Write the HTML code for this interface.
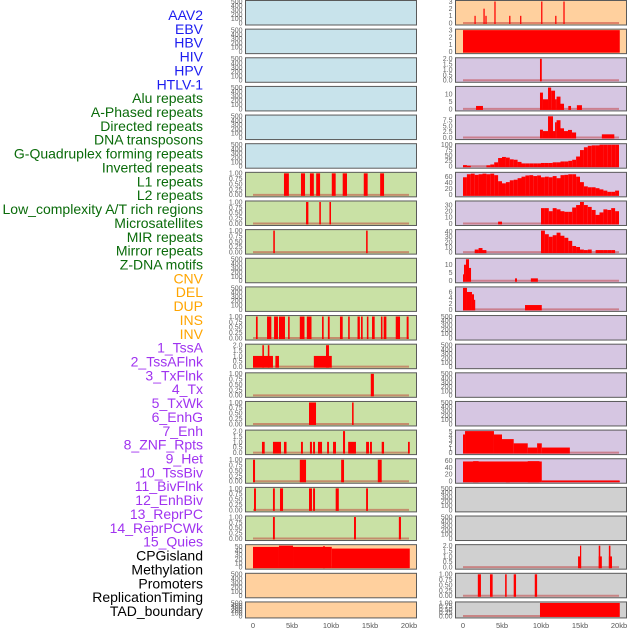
<!DOCTYPE html>
<html><head><meta charset="utf-8">
<style>
html,body{margin:0;padding:0;background:#fff;}
svg{display:block;}
</style></head>
<body>
<svg id="chart" width="630" height="630" viewBox="0 0 630 630" xmlns="http://www.w3.org/2000/svg"></svg>
<script>
// ---- labels ----
const trackLabels = ["AAV2","EBV","HBV","HIV","HPV","HTLV-1","Alu repeats","A-Phased repeats","Directed repeats","DNA transposons","G-Quadruplex forming repeats","Inverted repeats","L1 repeats","L2 repeats","Low_complexity A/T rich regions","Microsatellites","MIR repeats","Mirror repeats","Z-DNA motifs","CNV","DEL","DUP","INS","INV","1_TssA","2_TssAFlnk","3_TxFlnk","4_Tx","5_TxWk","6_EnhG","7_Enh","8_ZNF_Rpts","9_Het","10_TssBiv","11_BivFlnk","12_EnhBiv","13_ReprPC","14_ReprPCWk","15_Quies","CPGisland","Methylation","Promoters","ReplicationTiming","TAD_boundary"];
const labelGroups = [6,13,5,15,5];
const xTickValues = [0,5,10,15,20];
const xTickLabels = ["0","5kb","10kb","15kb","20kb"];

// ---- tick sets ----
const t500 = [0,100,200,300,400,500];
const t1 = [0,0.25,0.5,0.75,1];
const t2 = [0,0.5,1,1.5,2];

// ---- left column data (segments: start kb, end kb, value) ----
const segL6 = [[3.97,4.6,1],[6.15,6.67,1],[7.3,7.8,1],[8.1,8.6,1],[10.1,10.6,1],[11.5,12.05,1],[14.2,14.7,1],[16.3,16.8,1]];
const segL7 = [[6.8,7.1,1],[8.5,8.7,1],[9.8,10.0,1]];
const segL8 = [[2.6,2.8,1],[14.5,14.7,1]];
const segL11 = [[0.38,0.6,1],[1.8,2.35,1],[2.7,3.2,1],[3.33,4.1,1],[4.5,4.7,1],[6.0,6.6,1],[6.9,7.5,1],[8.85,9.06,1],[9.6,9.83,1],[11.15,11.5,1],[12.2,12.4,1],[13.4,13.7,1],[13.85,14.06,1],[14.6,14.8,1],[15.26,15.6,1],[16.4,16.6,1],[16.75,17.1,1],[18.3,18.85,1],[19.7,19.95,1]];
const segL12 = [[0,2.56,1],[1.2,1.4,2],[1.9,2.1,2],[2.87,3.33,1],[7.8,10.1,1],[9.36,9.74,2]];
const segL13 = [[15.1,15.5,1]];
const segL14 = [[7.18,8.08,1],[12.7,12.9,1]];
const segL15 = [[1.15,1.5,1],[2.56,3.59,1],[3.97,4.3,1],[6.15,6.4,1],[7.3,7.56,1],[7.7,7.95,1],[8.33,8.85,1],[9.5,9.74,1],[10.26,10.64,1],[11.54,11.8,2],[12.2,13.2,1],[14.5,14.87,1],[15.0,15.25,1],[16.5,16.8,1],[19.87,20.1,1]];
const segL16 = [[0,0.26,1],[6.0,6.8,1],[11.3,11.67,1],[16.0,16.5,1]];
const segL17 = [[0.13,0.38,1],[2.56,2.8,1],[3.46,3.85,1],[7.18,7.56,1],[7.7,7.95,1],[10.6,11.0,1],[14.5,14.74,1]];
const segL18 = [[2.56,2.8,1],[12.95,13.2,1],[18.7,18.97,1]];
const segL19 = [[0,3.33,49],[3.33,5.13,52],[5.13,10.1,49],[9.0,9.2,51],[10.1,20.1,45]];

// ---- right column data ----
const segR0 = [[1.47,1.62,1],[2.62,2.78,2],[2.87,3.03,1],[4.02,4.18,3],[5.92,6.08,1],[7.32,7.48,1],[10.02,10.18,3],[11.82,11.98,1],[12.87,13.03,3]];
const segR1 = [[0,20.1,3]];
const segR2 = [[9.87,10.1,2]];
const segR3 = [[1.67,2.56,2],[9.87,10.25,11],[10.25,10.9,6.5],[10.9,11.3,14.4],[11.3,11.8,12.3],[11.8,12.0,6.5],[12.0,12.5,8.3],[12.5,12.95,3.5],[13.5,13.85,2],[14.6,15.25,2.5]];
const segR4 = [[9.87,10.25,3.4],[10.25,10.9,2.8],[10.9,11.54,9.2],[11.54,11.8,2.8],[11.8,12.0,6.6],[12.0,12.5,7.5],[12.5,12.95,4],[12.95,13.46,2.8],[13.46,13.97,3.3],[13.97,14.5,2.2],[17.8,19.4,1.4]];
const profR5 = [5,2,0,0,0,0,4,8,18,38,43,40,32,30,20,13,13,13,13,13,15,15,15,18,18,22,22,25,30,45,75,88,95,97,97,100,100,100,100,100];
const profR6 = [58,68,70,66,68,70,68,70,65,45,38,42,48,50,55,60,64,65,62,64,58,60,58,62,55,65,66,68,68,60,42,28,25,25,22,18,14,10,10,14];
const profR7 = [0,0,0,0,0,0,0,0,0,3,0,0,0,0,0,0,0,0,0,0,25,25,20,25,23,20,19,19,26,30,35,30,27,22,14,18,23,22,25,20];
const profR8 = [0,0,0,5,8,4,0,0,0,0,0,0,0,0,0,0,0,0,0,0,42,35,30,33,38,32,28,22,12,10,5,4,5,0,4,4,4,4,4,0];
const segR9 = [[0,0.13,4],[0.13,0.38,10],[0.38,0.77,13.4],[0.77,1.03,8],[6.67,6.92,1.5],[8.7,9.6,1.5]];
const segR10 = [[0,0.51,7.4],[0.51,1.15,6],[1.15,1.41,5.2],[1.41,1.5,3.3],[7.95,10.1,1.5]];
const segR15 = [[0,0.26,4.3],[0.26,3.97,5.1],[3.97,5.0,4.3],[5.0,6.5,3.2],[6.5,8.3,2.2],[8.3,9.5,1.2],[9.5,10.1,2.2],[10.1,13.7,1.2]];
const segR16 = [[0,10.1,57],[1.3,2.0,58],[5.5,6.0,56],[8.3,9.8,58],[10.1,20.1,2]];
const segR19 = [[14.75,15.1,1],[15.0,15.1,2],[17.4,17.8,1],[17.4,17.6,2],[18.7,19.1,1],[18.7,18.9,2]];
const segR20 = [[1.9,2.3,1],[3.46,3.8,1],[5.4,5.6,1],[6.5,6.8,1],[9.2,9.5,1]];
const segR21 = [[9.87,20.1,1]];

const BG = {blue:"#c8e3eb", green:"#c9e1a5", orange:"#ffd09e", purple:"#d6c6e2", gray:"#d0d0d0"};
function fmt(arr,d){return arr.map(v=>v.toFixed(d));}
const left = [
 {bg:"blue",t:t500,ym:500},{bg:"blue",t:t500,ym:500},{bg:"blue",t:t500,ym:500},{bg:"blue",t:t500,ym:500},{bg:"blue",t:t500,ym:500},{bg:"blue",t:t500,ym:500},
 {bg:"green",t:t1,d:2,ym:1,seg:segL6},{bg:"green",t:t1,d:2,ym:1,seg:segL7},{bg:"green",t:t1,d:2,ym:1,seg:segL8},
 {bg:"green",t:t500,ym:500},{bg:"green",t:t500,ym:500},
 {bg:"green",t:t1,d:2,ym:1,seg:segL11},{bg:"green",t:t2,d:1,ym:2,seg:segL12},{bg:"green",t:t1,d:2,ym:1,seg:segL13},{bg:"green",t:t1,d:2,ym:1,seg:segL14},
 {bg:"green",t:t2,d:1,ym:2,seg:segL15},{bg:"green",t:t1,d:2,ym:1,seg:segL16},{bg:"green",t:t1,d:2,ym:1,seg:segL17},{bg:"green",t:t1,d:2,ym:1,seg:segL18},
 {bg:"orange",t:[0,10,20,30,40,50],ym:52,seg:segL19},{bg:"orange",t:t500,ym:500},{bg:"orange",t:t500,ym:500,short:true}
];
const right = [
 {bg:"orange",t:[0,1,2,3],ym:3,seg:segR0},{bg:"orange",t:[0,1,2,3],ym:3,seg:segR1},{bg:"purple",t:t2,d:1,ym:2,seg:segR2},
 {bg:"purple",t:[0,5,10],ym:14.5,seg:segR3},{bg:"purple",t:[0,2.5,5,7.5],d:1,ym:9.3,seg:segR4},
 {bg:"purple",t:[0,25,50,75,100],ym:100,prof:profR5},{bg:"purple",t:[0,20,40,60],ym:71,prof:profR6},
 {bg:"purple",t:[0,10,20,30],ym:35,prof:profR7},{bg:"purple",t:[0,10,20,30,40],ym:42,prof:profR8},
 {bg:"purple",t:[0,5,10],ym:13.4,seg:segR9},{bg:"purple",t:[0,2,4,6],ym:7.4,seg:segR10},
 {bg:"purple",t:t500,ym:500},{bg:"purple",t:t500,ym:500},{bg:"purple",t:t500,ym:500},{bg:"purple",t:t500,ym:500},
 {bg:"purple",t:[0,1,2,3,4,5],ym:5.1,seg:segR15},{bg:"purple",t:[0,20,40,60],ym:62,seg:segR16},
 {bg:"gray",t:t500,ym:500},{bg:"gray",t:t500,ym:500},
 {bg:"gray",t:t2,d:1,ym:2,seg:segR19},{bg:"gray",t:t1,d:2,ym:1,seg:segR20},{bg:"gray",t:t1,d:2,ym:1,seg:segR21,short:true}
];

const svg = document.getElementById('chart');
const NS = "http://www.w3.org/2000/svg";
function mk(tag, attrs, parent){const e=document.createElementNS(NS,tag);for(const k in attrs)e.setAttribute(k,attrs[k]);(parent||svg).appendChild(e);return e;}

// labels
const groupColors = ["#1c1cf0","#0a6b0a","#ffa500","#a033f0","#000000"];
let gi=0, cnt=0;
trackLabels.forEach((lab,i)=>{
  while(cnt>=labelGroups[gi]){gi++;cnt=0;}
  cnt++;
  const t = mk('text',{x:203,y:15+13.86*i+5,'text-anchor':'end','font-family':'Liberation Sans, sans-serif','font-size':14,fill:groupColors[gi]});
  
  
  t.textContent = lab;
});

function drawCol(panels, bx0, bx1, x0px, x20px, colName){
  const xs = kb => x0px + (x20px-x0px)*kb/20;
  panels.forEach((p,k)=>{
    const top = 0.5 + 28.64*k;
    const h = p.short ? 16 : 24.5;
    const bot = top + h;
    const g = mk('g',{});
    
    
    mk('rect',{x:bx0,y:top,width:bx1-bx0,height:h,fill:BG[p.bg]},g);
    const ys = v => (bot-2) - (h-3)*v/p.ym;
    const bars=[];
    if(p.seg) p.seg.forEach(s=>bars.push(s));
    if(p.prof) p.prof.forEach((v,i)=>{ if(v>0) bars.push([i*0.5,(i+1)*0.5,v]); });
    if(p.seg||p.prof){
      const bl = mk('line',{x1:xs(0),x2:xs(20),y1:bot-2,y2:bot-2,stroke:'rgba(190,40,40,0.45)','stroke-width':2},g);
      
      
    }
    bars.forEach(b=>{
      const x1=Math.max(xs(b[0]),bx0), x2=Math.min(xs(b[1]),bx1);
      const w=Math.max(x2-x1,1.2);
      const yt=Math.max(ys(b[2]),top);
      const r=mk('rect',{x:x1,y:yt,width:w,height:(bot-2)-yt+1,fill:'#ff0000'},g);
      
      
    });
    mk('rect',{x:bx0,y:top,width:bx1-bx0,height:h,fill:'none',stroke:'#5a5a5a','stroke-width':1},g);
    const labs = p.d!==undefined ? fmt(p.t,p.d) : p.t.map(String);
    p.t.forEach((v,i)=>{
      const tt=mk('text',{x:bx0-3,y:ys(v)+2.4,'text-anchor':'end','font-family':'Liberation Sans, sans-serif','font-size':7,fill:'#666'},g);
      
      
      tt.textContent=labs[i];
    });
  });
  xTickValues.forEach((v,i)=>{
    const t=mk('text',{x:xs(v),y:628,'text-anchor':'middle','font-family':'Liberation Sans, sans-serif','font-size':7.5,fill:'#555'});
    
    
    t.textContent=xTickLabels[i];
  });
}
drawCol(left,245.5,416.5,253,409,'left');
drawCol(right,455.5,626.5,463,619,'right');
</script>
</body></html>
